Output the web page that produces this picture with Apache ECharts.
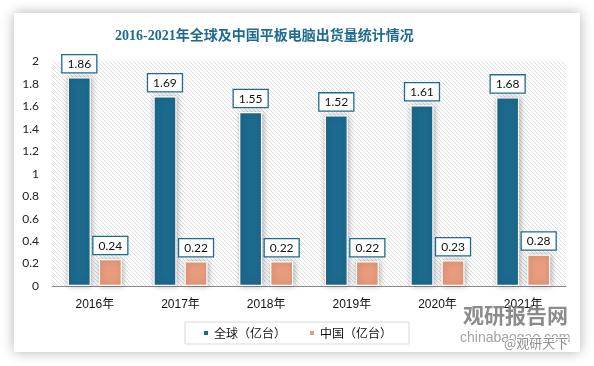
<!DOCTYPE html>
<html><head><meta charset="utf-8">
<script src="https://cdn.jsdelivr.net/npm/echarts@6/dist/echarts.min.js"></script>
<style>html,body{margin:0;padding:0;background:#fff}#c{width:594px;height:366px}</style>
</head><body><div id="c"></div>
<script>
var categories = ['2016年','2017年','2018年','2019年','2020年','2021年'];
var globalValues = [1.86, 1.69, 1.55, 1.52, 1.61, 1.68];
var chinaValues = [0.24, 0.22, 0.22, 0.22, 0.23, 0.28];
var seriesNames = ['全球（亿台）','中国（亿台）'];
var titleText = '2016-2021年全球及中国平板电脑出货量统计情况';

var pc = document.createElement('canvas');
pc.width = 4; pc.height = 4;
var pctx = pc.getContext('2d');
pctx.fillStyle = '#fff'; pctx.fillRect(0,0,4,4);
pctx.fillStyle = '#dedede';
for (var i=0;i<4;i++){ pctx.fillRect(i,i,1,1); }

var chart = echarts.init(document.getElementById('c'), null, {renderer:'canvas'});
var labelBox = {
  show:true, position:'top', distance:5,
  backgroundColor:'#fff', borderColor:'#1f6a8e', borderWidth:1.3,
  padding:[3,5,2,5], color:'#111', fontSize:12, fontFamily:'Lato, "Liberation Sans", sans-serif'
};
var barStyle = function(c){ return {color:c, borderColor:'#fff', borderWidth:1.2, shadowBlur:6, shadowColor:'rgba(0,0,0,0.3)', shadowOffsetX:1}; };
chart.setOption({
  animation:false,
  backgroundColor:'#fff',
  graphic:[
    {type:'rect', z:-10, shape:{x:14,y:13,width:566,height:339}, style:{fill:'#fff', shadowBlur:12, shadowColor:'rgba(0,0,0,0.3)'}},
    {type:'text', z:100, left:463, top:305, style:{text:'观研报告网', font:'bold 21px "Noto Sans CJK SC"', fill:'rgba(110,110,110,0.8)'}},
    {type:'text', z:100, left:460, top:331, style:{text:'chinabaogao.com', font:'14px "Liberation Sans"', fill:'rgba(140,140,140,0.8)'}},
    {type:'text', z:101, left:503, top:336, style:{text:'@观研天下', font:'13px "Noto Sans CJK SC"', fill:'rgba(130,130,130,0.9)', stroke:'#fff', lineWidth:2}}
  ],
  title:{text:titleText, left:110, top:24, textStyle:{fontSize:14, fontWeight:'bold', color:'#1f6b8f', fontFamily:'"Liberation Serif","Noto Sans CJK SC", serif'}},
  legend:{
    top:322, left:'center', data:seriesNames, icon:'rect', itemWidth:6, itemHeight:6, itemGap:22,
    borderColor:'#d9d9d9', borderWidth:1, padding:[5,17,5,17],
    textStyle:{fontSize:12, color:'#111', fontFamily:'"Noto Sans CJK SC"'}
  },
  grid:{left:52, right:28, top:61.5, bottom:80, show:true, borderWidth:0, backgroundColor:{image:pc, repeat:'repeat'}},
  xAxis:{type:'category', data:categories,
    axisLine:{lineStyle:{color:'#8c8c8c', width:1.2}}, axisTick:{show:false},
    axisLabel:{margin:13, fontSize:12, color:'#111', fontFamily:'"Liberation Sans", "Noto Sans CJK SC", sans-serif'}},
  yAxis:{type:'value', min:0, max:2, interval:0.2,
    axisLine:{show:false}, axisTick:{show:false}, splitLine:{show:false},
    axisLabel:{margin:13, fontSize:12, color:'#222', fontFamily:'Lato, "Liberation Sans", sans-serif'}},
  series:[
    {name:seriesNames[0], type:'bar', data:globalValues, barWidth:23, barGap:'35%', itemStyle:barStyle('#1c6a8e'), label:labelBox},
    {name:seriesNames[1], type:'bar', data:chinaValues, barWidth:23, itemStyle:barStyle('#e99c7d'), label:labelBox}
  ]
});
</script></body></html>
